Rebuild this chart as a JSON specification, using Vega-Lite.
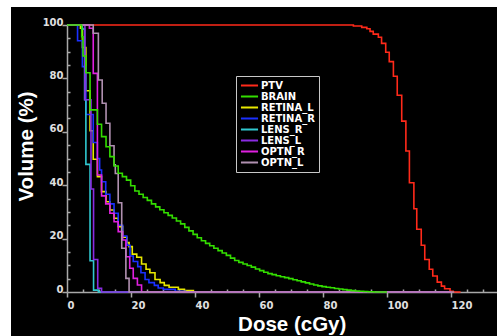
{
  "$schema": "https://vega.github.io/schema/vega-lite/v6.json",
  "width": 486,
  "height": 329,
  "autosize": {"type": "none"},
  "padding": {"left": 11, "top": 7, "right": 0, "bottom": 0},
  "background": "white",
  "config": {"view": {"fill": "black", "stroke": null}},
  "datasets": {
    "dvh": [
      {"s":"PTV","d":0,"v":100},{"s":"PTV","d":89.5,"v":99.6},{"s":"PTV","d":92.1,"v":99.1},{"s":"PTV","d":93.7,"v":98.6},{"s":"PTV","d":94.7,"v":97.6},{"s":"PTV","d":95.7,"v":96.6},{"s":"PTV","d":97.3,"v":95.4},{"s":"PTV","d":98.3,"v":93.1},{"s":"PTV","d":99.6,"v":89.8},{"s":"PTV","d":100.7,"v":86.3},{"s":"PTV","d":102,"v":80.8},{"s":"PTV","d":103.2,"v":73.7},{"s":"PTV","d":104.6,"v":64},{"s":"PTV","d":105.9,"v":52.8},{"s":"PTV","d":107,"v":40.9},{"s":"PTV","d":108.4,"v":31.2},{"s":"PTV","d":109.3,"v":23.5},{"s":"PTV","d":110.7,"v":17.5},{"s":"PTV","d":111.8,"v":12.2},{"s":"PTV","d":113.2,"v":8.5},{"s":"PTV","d":114.3,"v":6},{"s":"PTV","d":115.7,"v":3.7},{"s":"PTV","d":117,"v":2.2},{"s":"PTV","d":118,"v":1.2},{"s":"PTV","d":119.7,"v":0.3},{"s":"PTV","d":120.7,"v":0},{"s":"PTV","d":123,"v":0},

      {"s":"RETINA_L","d":0,"v":100},{"s":"RETINA_L","d":4.2,"v":98.8},{"s":"RETINA_L","d":4.8,"v":91.6},{"s":"RETINA_L","d":5.9,"v":75.4},{"s":"RETINA_L","d":7.2,"v":60.4},{"s":"RETINA_L","d":8.2,"v":49.7},{"s":"RETINA_L","d":9.5,"v":43.2},{"s":"RETINA_L","d":10.8,"v":37.6},{"s":"RETINA_L","d":12.2,"v":33.8},{"s":"RETINA_L","d":13.4,"v":30.7},{"s":"RETINA_L","d":14.7,"v":27.6},{"s":"RETINA_L","d":16,"v":24.5},{"s":"RETINA_L","d":17.4,"v":20.5},{"s":"RETINA_L","d":18.7,"v":18.5},{"s":"RETINA_L","d":19.4,"v":17},{"s":"RETINA_L","d":20.4,"v":14.2},{"s":"RETINA_L","d":21.8,"v":13},{"s":"RETINA_L","d":23.3,"v":10.5},{"s":"RETINA_L","d":24.7,"v":8.5},{"s":"RETINA_L","d":25.9,"v":7.2},{"s":"RETINA_L","d":27.5,"v":4.7},{"s":"RETINA_L","d":29.1,"v":3.5},{"s":"RETINA_L","d":30.4,"v":2.5},{"s":"RETINA_L","d":31.9,"v":1.8},{"s":"RETINA_L","d":34.8,"v":1.0},{"s":"RETINA_L","d":36.7,"v":0.5},{"s":"RETINA_L","d":39.5,"v":0},{"s":"RETINA_L","d":120,"v":0},

      {"s":"RETINA_R","d":0,"v":100},{"s":"RETINA_R","d":3.3,"v":94.1},{"s":"RETINA_R","d":4.8,"v":84.4},{"s":"RETINA_R","d":5.9,"v":66.5},{"s":"RETINA_R","d":8.2,"v":56},{"s":"RETINA_R","d":9.5,"v":50},{"s":"RETINA_R","d":10.2,"v":45.7},{"s":"RETINA_R","d":10.8,"v":41.3},{"s":"RETINA_R","d":12.1,"v":36.6},{"s":"RETINA_R","d":13.4,"v":33},{"s":"RETINA_R","d":14.7,"v":29.5},{"s":"RETINA_R","d":16,"v":25},{"s":"RETINA_R","d":17.4,"v":21},{"s":"RETINA_R","d":18.7,"v":17.5},{"s":"RETINA_R","d":19.7,"v":13.5},{"s":"RETINA_R","d":20.7,"v":11.4},{"s":"RETINA_R","d":22.1,"v":9.5},{"s":"RETINA_R","d":23.1,"v":7.2},{"s":"RETINA_R","d":24.4,"v":4.7},{"s":"RETINA_R","d":25.6,"v":3.5},{"s":"RETINA_R","d":27.3,"v":2.5},{"s":"RETINA_R","d":28.5,"v":1.5},{"s":"RETINA_R","d":30.1,"v":1.0},{"s":"RETINA_R","d":33.8,"v":0.3},{"s":"RETINA_R","d":37,"v":0},{"s":"RETINA_R","d":120,"v":0},

      {"s":"LENS_R","d":0,"v":100},{"s":"LENS_R","d":4.8,"v":98.5},{"s":"LENS_R","d":5.5,"v":72},{"s":"LENS_R","d":5.9,"v":47.8},{"s":"LENS_R","d":7.2,"v":11.7},{"s":"LENS_R","d":8.3,"v":0.7},{"s":"LENS_R","d":9.8,"v":0},{"s":"LENS_R","d":120,"v":0},

      {"s":"LENS_L","d":0,"v":100},{"s":"LENS_L","d":5.6,"v":72},{"s":"LENS_L","d":7.5,"v":38.6},{"s":"LENS_L","d":8.3,"v":12.2},{"s":"LENS_L","d":9.6,"v":1.4},{"s":"LENS_L","d":10.8,"v":0},{"s":"LENS_L","d":120,"v":0},

      {"s":"OPTN_R","d":0,"v":100},{"s":"OPTN_R","d":7.0,"v":98.8},{"s":"OPTN_R","d":8.2,"v":81.9},{"s":"OPTN_R","d":9.5,"v":43.8},{"s":"OPTN_R","d":10.8,"v":36},{"s":"OPTN_R","d":12.1,"v":33},{"s":"OPTN_R","d":13.4,"v":29.5},{"s":"OPTN_R","d":14.7,"v":26.3},{"s":"OPTN_R","d":16,"v":22.6},{"s":"OPTN_R","d":17.4,"v":19.5},{"s":"OPTN_R","d":18.4,"v":13.2},{"s":"OPTN_R","d":19.6,"v":8.9},{"s":"OPTN_R","d":20.7,"v":5.1},{"s":"OPTN_R","d":22,"v":2.6},{"s":"OPTN_R","d":23.3,"v":0},{"s":"OPTN_R","d":120,"v":0},

      {"s":"OPTN_L","d":0,"v":100},{"s":"OPTN_L","d":8.2,"v":96.9},{"s":"OPTN_L","d":9.8,"v":79.4},{"s":"OPTN_L","d":11,"v":70.7},{"s":"OPTN_L","d":12.2,"v":63.2},{"s":"OPTN_L","d":13.4,"v":54.8},{"s":"OPTN_L","d":14.7,"v":47.6},{"s":"OPTN_L","d":15.1,"v":44.4},{"s":"OPTN_L","d":16,"v":33.4},{"s":"OPTN_L","d":17.1,"v":16.4},{"s":"OPTN_L","d":18.4,"v":5.1},{"s":"OPTN_L","d":19.4,"v":0},{"s":"OPTN_L","d":121,"v":0},

      {"s":"BRAIN","d":0,"v":100},{"s":"BRAIN","d":4.6,"v":95.6},{"s":"BRAIN","d":5.0,"v":88.4},{"s":"BRAIN","d":5.9,"v":82.1},{"s":"BRAIN","d":7.2,"v":68.2},{"s":"BRAIN","d":9.5,"v":62.8},{"s":"BRAIN","d":10.8,"v":58.2},{"s":"BRAIN","d":12.2,"v":54.4},{"s":"BRAIN","d":13.4,"v":50.7},
      {"s":"BRAIN","d":14.7,"v":47.2},{"s":"BRAIN","d":16.0,"v":44.5},{"s":"BRAIN","d":17.3,"v":43.2},{"s":"BRAIN","d":18.6,"v":41.9},{"s":"BRAIN","d":19.9,"v":39.8},{"s":"BRAIN","d":21.2,"v":37.8},{"s":"BRAIN","d":22.5,"v":36.6},{"s":"BRAIN","d":23.8,"v":35.4},{"s":"BRAIN","d":25.1,"v":34.3},{"s":"BRAIN","d":26.4,"v":33.0},{"s":"BRAIN","d":27.7,"v":31.9},{"s":"BRAIN","d":29.0,"v":30.8},{"s":"BRAIN","d":30.3,"v":29.7},{"s":"BRAIN","d":31.6,"v":28.7},{"s":"BRAIN","d":32.9,"v":27.7},{"s":"BRAIN","d":34.2,"v":26.6},{"s":"BRAIN","d":35.5,"v":25.5},{"s":"BRAIN","d":36.8,"v":24.2},{"s":"BRAIN","d":38.1,"v":22.9},{"s":"BRAIN","d":39.4,"v":21.6},{"s":"BRAIN","d":40.7,"v":20.3},{"s":"BRAIN","d":42.0,"v":19.2},{"s":"BRAIN","d":43.3,"v":18.2},{"s":"BRAIN","d":44.6,"v":17.3},{"s":"BRAIN","d":45.9,"v":16.4},{"s":"BRAIN","d":47.2,"v":15.5},{"s":"BRAIN","d":48.5,"v":14.6},{"s":"BRAIN","d":49.8,"v":13.7},{"s":"BRAIN","d":51.1,"v":12.7},{"s":"BRAIN","d":52.4,"v":11.8},{"s":"BRAIN","d":53.7,"v":11.1},{"s":"BRAIN","d":55.0,"v":10.5},{"s":"BRAIN","d":56.3,"v":9.9},{"s":"BRAIN","d":57.6,"v":9.3},{"s":"BRAIN","d":58.9,"v":8.6},{"s":"BRAIN","d":60.2,"v":8.0},{"s":"BRAIN","d":61.5,"v":7.4},{"s":"BRAIN","d":62.8,"v":6.9},{"s":"BRAIN","d":64.1,"v":6.5},{"s":"BRAIN","d":65.4,"v":6.1},{"s":"BRAIN","d":66.7,"v":5.7},{"s":"BRAIN","d":68.0,"v":5.4},{"s":"BRAIN","d":69.3,"v":5.0},{"s":"BRAIN","d":70.6,"v":4.6},{"s":"BRAIN","d":71.9,"v":4.2},{"s":"BRAIN","d":73.2,"v":3.8},{"s":"BRAIN","d":74.5,"v":3.4},{"s":"BRAIN","d":75.8,"v":3.0},{"s":"BRAIN","d":77.1,"v":2.6},{"s":"BRAIN","d":78.4,"v":2.3},{"s":"BRAIN","d":79.7,"v":2.0},{"s":"BRAIN","d":81.0,"v":1.8},{"s":"BRAIN","d":82.3,"v":1.6},{"s":"BRAIN","d":83.6,"v":1.3},{"s":"BRAIN","d":84.9,"v":1.1},{"s":"BRAIN","d":86.2,"v":0.9},{"s":"BRAIN","d":87.5,"v":0.7},{"s":"BRAIN","d":88.8,"v":0.5},{"s":"BRAIN","d":90.1,"v":0.4},{"s":"BRAIN","d":91.4,"v":0.3},{"s":"BRAIN","d":92.7,"v":0.2},{"s":"BRAIN","d":94.0,"v":0.1},{"s":"BRAIN","d":96.0,"v":0},{"s":"BRAIN","d":100.0,"v":0}
    ]
  },
  "data": {"name": "dvh"},
  "mark": {"type": "line", "interpolate": "step-after", "strokeWidth": 1.6},
  "encoding": {
    "x": {
      "field": "d", "type": "quantitative",
      "scale": {"domain": [0, 134.375], "range": [56, 486], "nice": false, "zero": false},
      "axis": {
        "title": "Dose (cGy)",
        "values": [0,5,10,15,20,25,30,35,40,45,50,55,60,65,70,75,80,85,90,95,100,105,110,115,120,125,130],
        "labelExpr": "datum.value % 20 === 0 ? datum.label : ''",
        "offset": -44,
        "grid": false,
        "domainColor": "#a8a8a8", "domainWidth": 1.5,
        "tickColor": "#a8a8a8", "tickWidth": 1.5,
        "tickSize": {"condition": {"test": "datum.value % 20 === 0", "value": 5}, "value": -3},
        "labelAlign": "left", "labelBaseline": "top", "labelPadding": 3,
        "labelColor": "#e0e0e0", "labelFont": "DejaVu Sans", "labelFontWeight": "bold", "labelFontSize": 10,
        "labelFlush": false, "labelOverlap": false,
        "titleColor": "white", "titleFont": "Liberation Sans", "titleFontWeight": "bold", "titleFontSize": 20.5,
        "titleX": 280.7, "titleY": 38, "titleAlign": "center", "titleBaseline": "alphabetic"
      }
    },
    "y": {
      "field": "v", "type": "quantitative",
      "scale": {"domain": [0, 100], "range": [285, 18], "nice": false, "zero": false},
      "axis": {
        "title": "Volume (%)",
        "values": [0,5,10,15,20,25,30,35,40,45,50,55,60,65,70,75,80,85,90,95,100],
        "labelExpr": "datum.value % 20 === 0 ? datum.label : ''",
        "offset": -56,
        "grid": false,
        "domainColor": "#a8a8a8", "domainWidth": 1.5,
        "tickColor": "#a8a8a8", "tickWidth": 1.5,
        "tickSize": {"condition": {"test": "datum.value % 20 === 0", "value": 5}, "value": -3},
        "labelAlign": "right", "labelBaseline": "alphabetic", "labelPadding": -1,
        "labelColor": "#e0e0e0", "labelFont": "DejaVu Sans", "labelFontWeight": "bold", "labelFontSize": 10,
        "labelFlush": false, "labelOverlap": false,
        "titleColor": "white", "titleFont": "Liberation Sans", "titleFontWeight": "bold", "titleFontSize": 20.5,
        "titleX": -35, "titleY": 139, "titleAngle": -90, "titleAlign": "center", "titleBaseline": "alphabetic"
      }
    },
    "color": {
      "field": "s", "type": "nominal",
      "scale": {
        "domain": ["PTV","BRAIN","RETINA_L","RETINA_R","LENS_R","LENS_L","OPTN_R","OPTN_L"],
        "range": ["#ff2a1a","#33dd00","#e8e800","#1a30ff","#30c8d0","#8a2be2","#e020e0","#b090b0"]
      },
      "legend": {
        "orient": "none", "legendX": 225, "legendY": 69,
        "title": null,
        "fillColor": "black", "strokeColor": "#c8c8c8", "padding": 4,
        "symbolType": "M-1.9,0H1.9", "symbolSize": 81, "symbolStrokeWidth": 2, "symbolOffset": 4,
        "labelColor": "white", "labelFont": "DejaVu Sans", "labelFontWeight": "bold", "labelFontSize": 10,
        "labelOffset": 6, "rowPadding": 0
      }
    }
  }
}
